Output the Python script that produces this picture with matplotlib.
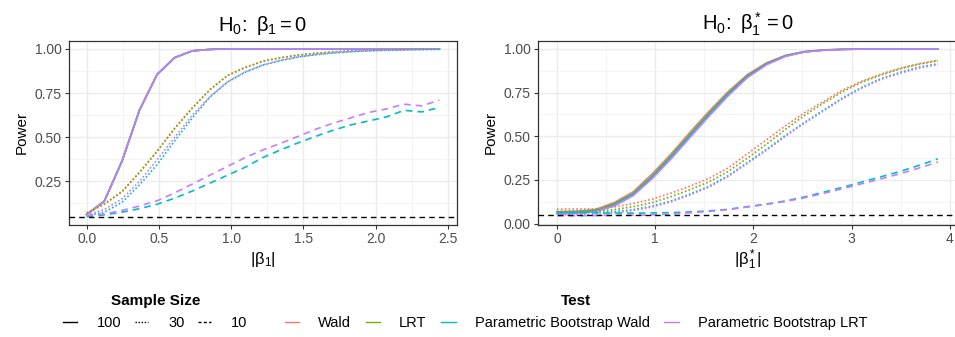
import matplotlib
matplotlib.use("Agg")
import matplotlib.pyplot as plt
from matplotlib.lines import Line2D
from matplotlib.ticker import FixedLocator, FormatStrFormatter

plt.rcParams['font.family'] = ['Liberation Sans', 'DejaVu Sans']
plt.rcParams['mathtext.fontset'] = 'custom'
plt.rcParams['mathtext.rm'] = 'Liberation Sans'
plt.rcParams['mathtext.it'] = 'Liberation Sans'
plt.rcParams['mathtext.default'] = 'regular'

# ---------------- data ----------------
tests = ["Wald", "LRT", "Parametric Bootstrap Wald", "Parametric Bootstrap LRT"]
test_colors = ["#F8766D", "#7CAE00", "#00BFC4", "#C77CFF"]
sample_sizes = ["100", "30", "10"]

# Left panel: H0: beta1 = 0
left_x = [0.000, 0.122, 0.244, 0.366, 0.488, 0.610, 0.732, 0.854, 0.976, 1.098,
          1.220, 1.342, 1.464, 1.586, 1.708, 1.830, 1.952, 2.074, 2.196, 2.318, 2.440]
left_n100 = [0.062, 0.137, 0.363, 0.654, 0.856, 0.951, 0.989, 0.997, 1.0, 1.0,
             1.0, 1.0, 1.0, 1.0, 1.0, 1.0, 1.0, 1.0, 1.0, 1.0, 1.0]
left_n30_wald = [0.072, 0.122, 0.192, 0.302, 0.422, 0.552, 0.667, 0.770, 0.850, 0.895,
                 0.930, 0.950, 0.965, 0.975, 0.983, 0.988, 0.992, 0.995, 0.997, 0.998, 0.999]
left_n30_lrt = [0.068, 0.120, 0.190, 0.300, 0.420, 0.550, 0.665, 0.770, 0.850, 0.895,
                0.930, 0.950, 0.965, 0.975, 0.983, 0.988, 0.992, 0.995, 0.997, 0.998, 0.999]
left_n30_pbwald = [0.055, 0.075, 0.130, 0.230, 0.345, 0.480, 0.610, 0.728, 0.813, 0.868,
                   0.908, 0.934, 0.954, 0.967, 0.977, 0.984, 0.989, 0.992, 0.994, 0.996, 0.997]
left_n30_pblrt = [0.060, 0.090, 0.150, 0.250, 0.372, 0.500, 0.625, 0.730, 0.815, 0.870,
                  0.910, 0.935, 0.955, 0.968, 0.978, 0.985, 0.990, 0.993, 0.995, 0.997, 0.998]
left_n10_pbwald = [0.050, 0.060, 0.075, 0.095, 0.120, 0.155, 0.195, 0.240, 0.285, 0.330,
                   0.385, 0.428, 0.468, 0.505, 0.540, 0.570, 0.592, 0.615, 0.652, 0.643, 0.668]
left_n10_pblrt = [0.055, 0.065, 0.085, 0.110, 0.140, 0.185, 0.235, 0.285, 0.335, 0.385,
                  0.428, 0.465, 0.505, 0.545, 0.580, 0.610, 0.640, 0.660, 0.687, 0.677, 0.710]

# Right panel: H0: beta1* = 0
right_x = [0.000, 0.194, 0.388, 0.582, 0.776, 0.970, 1.164, 1.358, 1.552, 1.746,
           1.940, 2.134, 2.328, 2.522, 2.716, 2.910, 3.104, 3.298, 3.492, 3.686, 3.880]
right_n100_wald = [0.068, 0.071, 0.080, 0.120, 0.182, 0.285, 0.400, 0.525, 0.645, 0.757,
                   0.853, 0.920, 0.963, 0.985, 0.994, 0.998, 0.999, 1.0, 1.0, 1.0, 1.0]
right_n100_lrt = [0.064, 0.067, 0.076, 0.112, 0.172, 0.272, 0.388, 0.512, 0.633, 0.747,
                  0.846, 0.916, 0.961, 0.984, 0.993, 0.997, 0.999, 1.0, 1.0, 1.0, 1.0]
right_n100_pbwald = [0.062, 0.065, 0.074, 0.108, 0.168, 0.268, 0.383, 0.507, 0.628, 0.743,
                     0.843, 0.914, 0.960, 0.983, 0.993, 0.997, 0.999, 1.0, 1.0, 1.0, 1.0]
right_n100_pblrt = [0.055, 0.058, 0.068, 0.100, 0.160, 0.258, 0.372, 0.495, 0.617, 0.733,
                    0.836, 0.909, 0.957, 0.982, 0.992, 0.997, 0.999, 1.0, 1.0, 1.0, 1.0]
right_n30_wald = [0.083, 0.083, 0.085, 0.095, 0.115, 0.140, 0.175, 0.215, 0.260, 0.320,
                  0.400, 0.480, 0.560, 0.635, 0.700, 0.765, 0.815, 0.855, 0.890, 0.915, 0.935]
right_n30_lrt = [0.070, 0.070, 0.072, 0.080, 0.097, 0.120, 0.155, 0.195, 0.240, 0.300,
                 0.375, 0.455, 0.540, 0.620, 0.690, 0.755, 0.810, 0.850, 0.885, 0.912, 0.932]
right_n30_pbwald = [0.065, 0.065, 0.065, 0.068, 0.080, 0.100, 0.130, 0.170, 0.215, 0.275,
                    0.350, 0.425, 0.505, 0.580, 0.650, 0.720, 0.780, 0.830, 0.865, 0.895, 0.915]
right_n30_pblrt = [0.050, 0.050, 0.052, 0.060, 0.075, 0.095, 0.125, 0.165, 0.210, 0.270,
                   0.345, 0.420, 0.500, 0.575, 0.645, 0.715, 0.775, 0.825, 0.860, 0.890, 0.910]
right_n10_pbwald = [0.062, 0.062, 0.061, 0.060, 0.060, 0.061, 0.063, 0.067, 0.073, 0.082,
                    0.097, 0.112, 0.130, 0.153, 0.180, 0.208, 0.238, 0.268, 0.298, 0.333, 0.370]
right_n10_pblrt = [0.045, 0.045, 0.046, 0.047, 0.048, 0.050, 0.055, 0.062, 0.070, 0.080,
                   0.095, 0.110, 0.127, 0.148, 0.173, 0.200, 0.228, 0.256, 0.285, 0.318, 0.352]

alpha_level = 0.05

# ---------------- styles ----------------
LW = 1.2
ls_map = {"100": "-", "30": (0, (1, 1.3)), "10": (0, (4, 3))}
legend_ls = {"100": "-", "30": (0, (1, 1.2)), "10": (0, (2.2, 1.6))}

W, H = 955, 337
fig = plt.figure(figsize=(W / 100, H / 100), dpi=100)
fig.patch.set_facecolor("white")

ax1 = fig.add_axes([69 / W, 1 - 225 / H, 388 / W, 184.5 / H])
ax2 = fig.add_axes([538 / W, 1 - 225 / H, 419 / W, 184.5 / H])


def style_axes(ax):
    ax.set_facecolor("white")
    for s in ax.spines.values():
        s.set_color("#333333")
        s.set_linewidth(0.9)
    ax.grid(True, which="major", color="#EBEBEB", linewidth=1.0, zorder=0)
    ax.grid(True, which="minor", color="#F2F2F2", linewidth=0.6, zorder=0)
    ax.set_axisbelow(True)
    ax.tick_params(which="major", length=2.75, width=0.8, color="#333333",
                   labelsize=10, labelcolor="#4D4D4D", pad=2.5)
    ax.tick_params(which="minor", length=0)


def draw(ax, x, series_list, size):
    for vals, col in series_list:
        ax.plot(x, vals, color=col, linestyle=ls_map[size], linewidth=LW, zorder=3)


# Left panel
style_axes(ax1)
draw(ax1, left_x, [(left_n100, test_colors[0]), (left_n100, test_colors[1]),
                   (left_n100, test_colors[2]), (left_n100, test_colors[3])], "100")
draw(ax1, left_x, [(left_n30_wald, test_colors[0]), (left_n30_lrt, test_colors[1]),
                   (left_n30_pbwald, test_colors[2]), (left_n30_pblrt, test_colors[3])], "30")
draw(ax1, left_x, [(left_n10_pbwald, test_colors[2]), (left_n10_pblrt, test_colors[3])], "10")
ax1.axhline(alpha_level, color="black", linestyle=(0, (4, 3)), linewidth=1.0, zorder=4)
ax1.set_xlim(-0.122, 2.562)
ax1.set_ylim(0.0025, 1.0475)
ax1.xaxis.set_major_locator(FixedLocator([0, 0.5, 1.0, 1.5, 2.0, 2.5]))
ax1.xaxis.set_minor_locator(FixedLocator([0.25, 0.75, 1.25, 1.75, 2.25]))
ax1.yaxis.set_major_locator(FixedLocator([0.25, 0.5, 0.75, 1.0]))
ax1.yaxis.set_minor_locator(FixedLocator([0.125, 0.375, 0.625, 0.875]))
ax1.xaxis.set_major_formatter(FormatStrFormatter("%.1f"))
ax1.yaxis.set_major_formatter(FormatStrFormatter("%.2f"))
ax1.set_ylabel("Power", fontsize=11, labelpad=4)
ax1.set_xlabel(r"$|\beta_1|$", fontsize=12, labelpad=3)
ax1.set_title(r"$H_0\!:\ \beta_1 = 0$", fontsize=14.5, pad=7)

# Right panel
style_axes(ax2)
draw(ax2, right_x, [(right_n100_wald, test_colors[0]), (right_n100_lrt, test_colors[1]),
                    (right_n100_pbwald, test_colors[2]), (right_n100_pblrt, test_colors[3])], "100")
draw(ax2, right_x, [(right_n30_wald, test_colors[0]), (right_n30_lrt, test_colors[1]),
                    (right_n30_pbwald, test_colors[2]), (right_n30_pblrt, test_colors[3])], "30")
draw(ax2, right_x, [(right_n10_pbwald, test_colors[2]), (right_n10_pblrt, test_colors[3])], "10")
ax2.axhline(alpha_level, color="black", linestyle=(0, (4, 3)), linewidth=1.0, zorder=4)
ax2.set_xlim(-0.194, 4.074)
ax2.set_ylim(-0.008, 1.048)
ax2.xaxis.set_major_locator(FixedLocator([0, 1, 2, 3, 4]))
ax2.xaxis.set_minor_locator(FixedLocator([0.5, 1.5, 2.5, 3.5]))
ax2.yaxis.set_major_locator(FixedLocator([0, 0.25, 0.5, 0.75, 1.0]))
ax2.yaxis.set_minor_locator(FixedLocator([0.125, 0.375, 0.625, 0.875]))
ax2.xaxis.set_major_formatter(FormatStrFormatter("%d"))
ax2.yaxis.set_major_formatter(FormatStrFormatter("%.2f"))
ax2.set_ylabel("Power", fontsize=11, labelpad=4)
ax2.set_xlabel(r"$|\beta_1^*|$", fontsize=12, labelpad=1)
ax2.set_title(r"$H_0\!:\ \beta_1^* = 0$", fontsize=14.5, pad=7)

# Legends
size_handles = [Line2D([], [], color="black", linestyle=legend_ls[s], linewidth=1.0)
                for s in sample_sizes]
leg1 = fig.legend(size_handles, sample_sizes, title="Sample Size", ncol=3,
                  loc="center", bbox_to_anchor=(155.5 / W, 1 - 312 / H),
                  frameon=False, fontsize=10.5, handlelength=0.9, handletextpad=1.4,
                  columnspacing=0.9,
                  title_fontproperties={"weight": "bold", "size": 11})
test_handles = [Line2D([], [], color=c, linewidth=1.0) for c in test_colors]
leg2 = fig.legend(test_handles, tests, title="Test", ncol=4,
                  loc="center", bbox_to_anchor=(576 / W, 1 - 312 / H),
                  frameon=False, fontsize=10.5, handlelength=1.0, handletextpad=1.3,
                  columnspacing=1.0,
                  title_fontproperties={"weight": "bold", "size": 11})

fig.savefig("out.png", dpi=100, facecolor="white")
